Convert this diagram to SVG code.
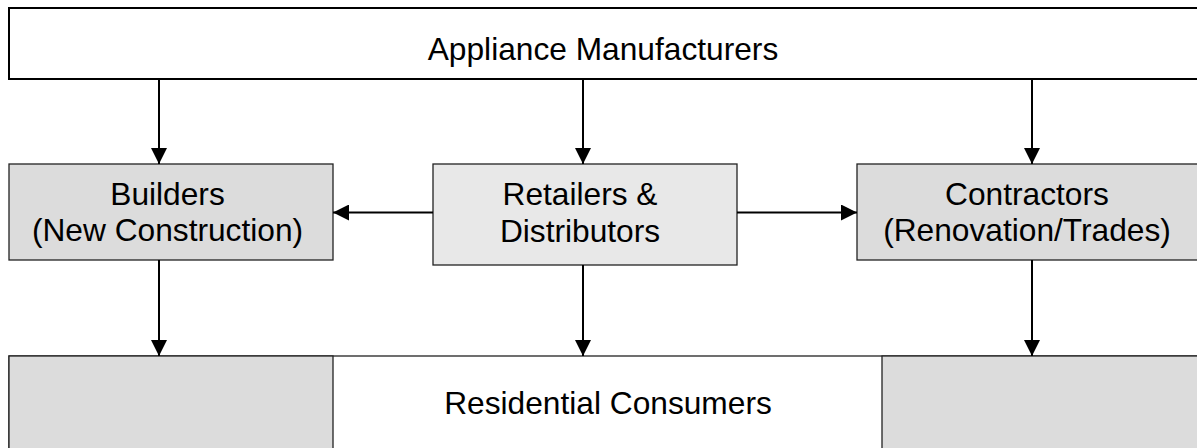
<svg xmlns="http://www.w3.org/2000/svg" width="1197" height="448" viewBox="0 0 1197 448">
<defs>
<style>
.t{font-family:"Liberation Sans",Arial,sans-serif;font-size:31.7px;fill:#000;text-anchor:middle}
.top{fill:#fff;stroke:#000;stroke-width:2}
.mid{fill:#dcdcdc;stroke:#222;stroke-width:1.3}
.ret{fill:#e8e8e8;stroke:#222;stroke-width:1.3}
.conn{stroke:#000;stroke-width:2;fill:none;marker-end:url(#ah)}
</style>
<marker id="ah" viewBox="0 0 16 16" refX="16" refY="8" markerWidth="16" markerHeight="16" markerUnits="userSpaceOnUse" orient="auto">
<path d="M0,0 L16,8 L0,16 Z" fill="#000"/>
</marker>
</defs>
<rect width="1197" height="448" fill="#fff"/>
<g id="manufacturers">
<rect class="top" x="9" y="8" width="1200" height="71"/>
<text class="t" x="603" y="60">Appliance Manufacturers</text>
</g>
<g id="builders">
<rect class="mid" x="9" y="164" width="324" height="96"/>
<text class="t" x="167.5" y="205">Builders</text>
<text class="t" x="167.5" y="241">(New Construction)</text>
</g>
<g id="retailers">
<rect class="ret" x="433" y="164" width="304" height="101"/>
<text class="t" x="580" y="205">Retailers &amp;</text>
<text class="t" x="580" y="242">Distributors</text>
</g>
<g id="contractors">
<rect class="mid" x="857" y="164" width="350" height="96"/>
<text class="t" x="1027" y="205">Contractors</text>
<text class="t" x="1027" y="241">(Renovation/Trades)</text>
</g>
<g id="consumers">
<rect fill="#fff" stroke="#222" stroke-width="1.3" x="9" y="356" width="1200" height="110"/>
<rect class="mid" x="9" y="356" width="324" height="110"/>
<rect class="mid" x="882" y="356" width="330" height="110"/>
<text class="t" x="608" y="414">Residential Consumers</text>
</g>
<g id="connectors">
<line class="conn" x1="159" y1="80" x2="159" y2="164"/>
<line class="conn" x1="583" y1="80" x2="583" y2="164"/>
<line class="conn" x1="1032" y1="80" x2="1032" y2="164"/>
<line class="conn" x1="433" y1="212.5" x2="333" y2="212.5"/>
<line class="conn" x1="737" y1="212.5" x2="857" y2="212.5"/>
<line class="conn" x1="159" y1="260" x2="159" y2="356"/>
<line class="conn" x1="583" y1="265" x2="583" y2="356"/>
<line class="conn" x1="1032" y1="260" x2="1032" y2="356"/>
</g>
</svg>
